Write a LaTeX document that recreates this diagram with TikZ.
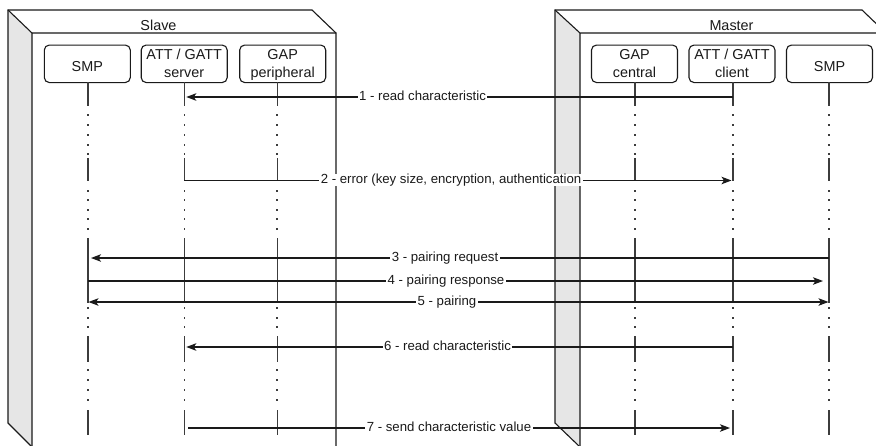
\documentclass[tikz,border=0pt]{standalone}
\usepackage{fontspec}
\setmainfont{Liberation Sans}
\usetikzlibrary{arrows.meta,calc}
\definecolor{ink}{HTML}{1A1A1A}
\definecolor{sideface}{HTML}{E6E6E6}
\tikzset{
  frame/.style={draw=ink, line width=1.1pt, line join=miter},
  part/.style={draw=ink, line width=1.1pt, rounded corners=5pt, fill=white,
    minimum width=86pt, minimum height=37.5pt, inner sep=0pt},
  parttext/.style={anchor=north, align=center, inner sep=0pt, text=ink,
    font=\fontsize{14.4}{18}\selectfont},
  title/.style={anchor=base, inner sep=0pt, text=ink, font=\fontsize{14.4}{17}\selectfont},
  active/.style={draw=ink!85, line width=1.1pt},
  dot/.style={draw=ink!85, line width=1.6pt},
  msg/.style={draw=ink, line width=1.1pt, -{Stealth[length=10pt,width=7.5pt,inset=2.5pt]}},
  bimsg/.style={draw=ink, line width=1.1pt,
    {Stealth[length=10pt,width=7.5pt,inset=2.5pt]}-{Stealth[length=10pt,width=7.5pt,inset=2.5pt]}},
  msglabel/.style={fill=white, inner xsep=1.5pt, inner ysep=0.5pt, text=ink,
    text height=9.5pt, text depth=2pt, font=\fontsize{13.2}{15}\selectfont}
}
\begin{document}
\begin{tikzpicture}[x=1pt,y=-1pt]
\useasboundingbox (0,0) rectangle (876,445);
\clip (0,0) rectangle (876,445);

% --- device frames (cube shapes) ---
\fill[white] (8,10) -- (312,10) -- (336,33) -- (336,447) -- (32,447) -- (8,423) -- cycle;
\fill[sideface] (8,10) -- (32,33) -- (32,447) -- (8,423) -- cycle;
\draw[frame] (8,10) -- (312,10) -- (336,33) -- (336,447) -- (32,447) -- (8,423) -- cycle;
\draw[frame] (8,10) -- (32,33) -- (336,33) (32,33) -- (32,447);

\fill[white] (555,10) -- (862,10) -- (886,33) -- (886,447) -- (580,447) -- (555,423) -- cycle;
\fill[sideface] (555,10) -- (580,33) -- (580,447) -- (555,423) -- cycle;
\draw[frame] (555,10) -- (862,10) -- (886,33) -- (886,447) -- (580,447) -- (555,423) -- cycle;
\draw[frame] (555,10) -- (580,33) -- (886,33) (580,33) -- (580,447);

\node[title] (slaveTitle) at (158.5,30) {Slave};
\node[title] (masterTitle) at (731.5,30) {Master};

% --- participants ---
\node[part] (sSMP) at (87.3,63.8) {};
\node[part] (sATT) at (184.2,63.8) {};
\node[part] (sGAP) at (282.7,63.8) {};
\node[part] (mGAP) at (634.5,63.8) {};
\node[part] (mATT) at (732,63.8) {};
\node[part] (mSMP) at (829.5,63.8) {};

\node[parttext] (sSMPtext) at (87.3,61.7) {SMP};
\node[parttext] (sATTtext) at (184.2,49.3) {ATT / GATT\\server};
\node[parttext] (sGAPtext) at (282.7,49.3) {GAP\\peripheral};
\node[parttext] (mGAPtext) at (634.5,49.3) {GAP\\central};
\node[parttext] (mATTtext) at (732,49.3) {ATT / GATT\\client};
\node[parttext] (mSMPtext) at (829.5,61.7) {SMP};

% lifeline heads
\coordinate (lsSMP) at (88,82);
\coordinate (lsATT) at (184.3,82);
\coordinate (lsGAP) at (277.2,82);
\coordinate (lmGAP) at (635,82);
\coordinate (lmATT) at (733,82);
\coordinate (lmSMP) at (829,82);

% --- lifelines: solid activation stretches and dotted gaps ---
\foreach \l in {lsSMP,lsATT,lsGAP,lmGAP,lmATT,lmSMP}{
  \foreach \a/\b in {82/106,158/181,238/303,336/362,410/435}
    \draw[active] (\l |- 0,\a) -- (\l |- 0,\b);
  \foreach \y in {115,125,135,145,154,191,200,210,219,229,308,318,327,370,380,390,400}
    \draw[dot] ($(\l |- 0,\y)+(0,-0.75)$) -- ($(\l |- 0,\y)+(0,0.75)$);
}

% --- messages ---
\draw[msg] (lmATT |- 0,97) -- ($(lsATT |- 0,97)+(2,0)$);
\draw[msg] (lsATT |- 0,180.5) -- ($(lmATT |- 0,180.5)+(-1.5,0)$);
\draw[msg] (lmSMP |- 0,258) -- ($(lsSMP |- 0,258)+(3,0)$);
\draw[msg] (lsSMP |- 0,281) -- ($(lmSMP |- 0,281)+(-6,0)$);
\draw[bimsg] ($(lsSMP |- 0,302)+(0.5,0)$) -- ($(lmSMP |- 0,302)+(-0.5,0)$);
\draw[msg] (lmATT |- 0,347) -- ($(lsATT |- 0,347)+(2,0)$);
\draw[msg] ($(lsATT |- 0,428)+(4,0)$) -- ($(lmATT |- 0,428)+(-3,0)$);

\node[msglabel] (m1) at (422.5,96.5) {1 - read characteristic};
\node[msglabel] (m2) at (451,180) {2 - error (key size, encryption, authentication};
\node[msglabel] (m3) at (445,257.5) {3 - pairing request};
\node[msglabel] (m4) at (446,280.5) {4 - pairing response};
\node[msglabel] (m5) at (447,301.5) {5 - pairing};
\node[msglabel] (m6) at (447.5,346.5) {6 - read characteristic};
\node[msglabel] (m7) at (449,427.5) {7 - send characteristic value};
\end{tikzpicture}
\end{document}
